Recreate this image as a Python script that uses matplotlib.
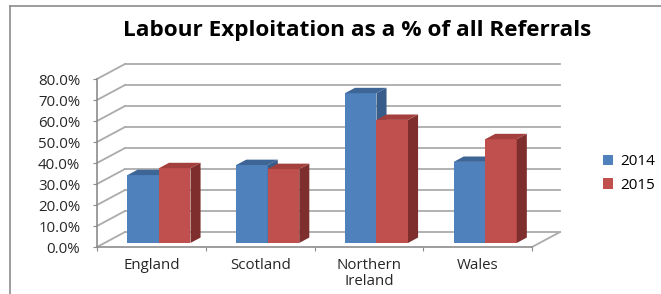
import matplotlib.pyplot as plt
from matplotlib.patches import Polygon, Patch
from matplotlib.lines import Line2D

# data
regions = ["England", "Scotland", "Northern\nIreland", "Wales"]
years = ["2014", "2015"]
pct_2014 = [32.3, 37.1, 71.3, 38.6]
pct_2015 = [35.6, 35.2, 58.6, 49.4]
yticks = [0, 10, 20, 30, 40, 50, 60, 70, 80]

front_cols = ["#4F81BD", "#C0504D"]
side_cols = ["#385D8A", "#7E2F2D"]
top_cols = ["#3D6696", "#A33F3C"]
grid_col = "#ABABAB"

plt.rcParams['font.family'] = ['Open Sans', 'DejaVu Sans']

# oblique depth of the plot box, in data units (category units, percent)
DX, DY = 0.2575, 7.14
f0, f1 = 0.27, 0.63   # bar depth range as a fraction of the box depth
bw = 0.29

fig = plt.figure(figsize=(6.61, 2.94), dpi=100)
ax = fig.add_axes([0, 0, 1, 1])
ax.set_facecolor("none")
ax.set_xlim(-1.392, 4.686)
ax.set_ylim(-22.38, 117.62)

n = len(regions)
x0, x1 = -0.5, n - 0.5

# back wall gridlines and left wall diagonals
for v in yticks:
    ax.plot([x0 + DX, x1 + DX], [v + DY, v + DY], color=grid_col, lw=1.3, zorder=1)
    ax.plot([x0, x0 + DX], [v, v + DY], color=grid_col, lw=1.3, zorder=1)
# right edge of the floor
ax.plot([x1, x1 + DX], [0, DY], color=grid_col, lw=1.3, zorder=1)

# bars with fake 3D faces
for s, vals in enumerate([pct_2014, pct_2015]):
    xs = [i - bw + s * bw + f0 * DX for i in range(n)]
    base = f0 * DY
    ax.bar(xs, vals, width=bw, bottom=base, align='edge',
           color=front_cols[s], edgecolor='none', zorder=3 + s)
    ddx, ddy = (f1 - f0) * DX, (f1 - f0) * DY
    for xl, h in zip(xs, vals):
        xr = xl + bw
        top = base + h
        ax.add_patch(Polygon([(xr, base), (xr + ddx, base + ddy),
                              (xr + ddx, top + ddy), (xr, top)],
                             closed=True, fc=side_cols[s], ec='none', zorder=3 + s))
        ax.add_patch(Polygon([(xl, top), (xr, top), (xr + ddx, top + ddy),
                              (xl + ddx, top + ddy)],
                             closed=True, fc=top_cols[s], ec='none', zorder=3 + s))

# axes: real spines placed on the front of the box
for side in ["top", "right"]:
    ax.spines[side].set_visible(False)
ax.spines["left"].set_position(("data", x0))
ax.spines["left"].set_bounds(0, 80)
ax.spines["bottom"].set_position(("data", 0))
ax.spines["bottom"].set_bounds(x0, x1)
for side in ["left", "bottom"]:
    ax.spines[side].set_color("#8C8C8C")
    ax.spines[side].set_linewidth(1.2)

ax.set_yticks(yticks)
ax.set_yticklabels([f"{v:.1f}%" for v in yticks])
ax.tick_params(axis='y', length=3, color="#8C8C8C", labelsize=10.8,
               labelcolor="#262626", pad=9)
ax.set_xticks([i - 0.5 for i in range(n + 1)])
ax.set_xticklabels([])
ax.tick_params(axis='x', which='major', length=3, color="#8C8C8C")
ax.set_xticks(range(n), minor=True)
ax.set_xticklabels(regions, minor=True, fontsize=10.8, color="#262626",
                   linespacing=1.05, va='top')
ax.tick_params(axis='x', which='minor', length=0, pad=8)

fig.text(0.540, 0.897, "Labour Exploitation as a % of all Referrals",
         ha='center', va='center', fontsize=16.2, fontweight='bold', color="black")

handles = [Patch(fc=c, ec='none') for c in front_cols]
fig.legend(handles, years, loc='center left', bbox_to_anchor=(0.9, 0.41),
           frameon=False, fontsize=11, handlelength=0.7, handleheight=0.7,
           handletextpad=0.45, labelspacing=0.55, borderpad=0)

# outer frame lines (top and left)
fig.add_artist(Line2D([10 / 661, 1], [1 - 6 / 294] * 2, transform=fig.transFigure,
                      color="#8C8C8C", lw=1.2))
fig.add_artist(Line2D([10 / 661] * 2, [0, 1 - 6 / 294], transform=fig.transFigure,
                      color="#8C8C8C", lw=1.2))

fig.savefig("out.png", dpi=100)
